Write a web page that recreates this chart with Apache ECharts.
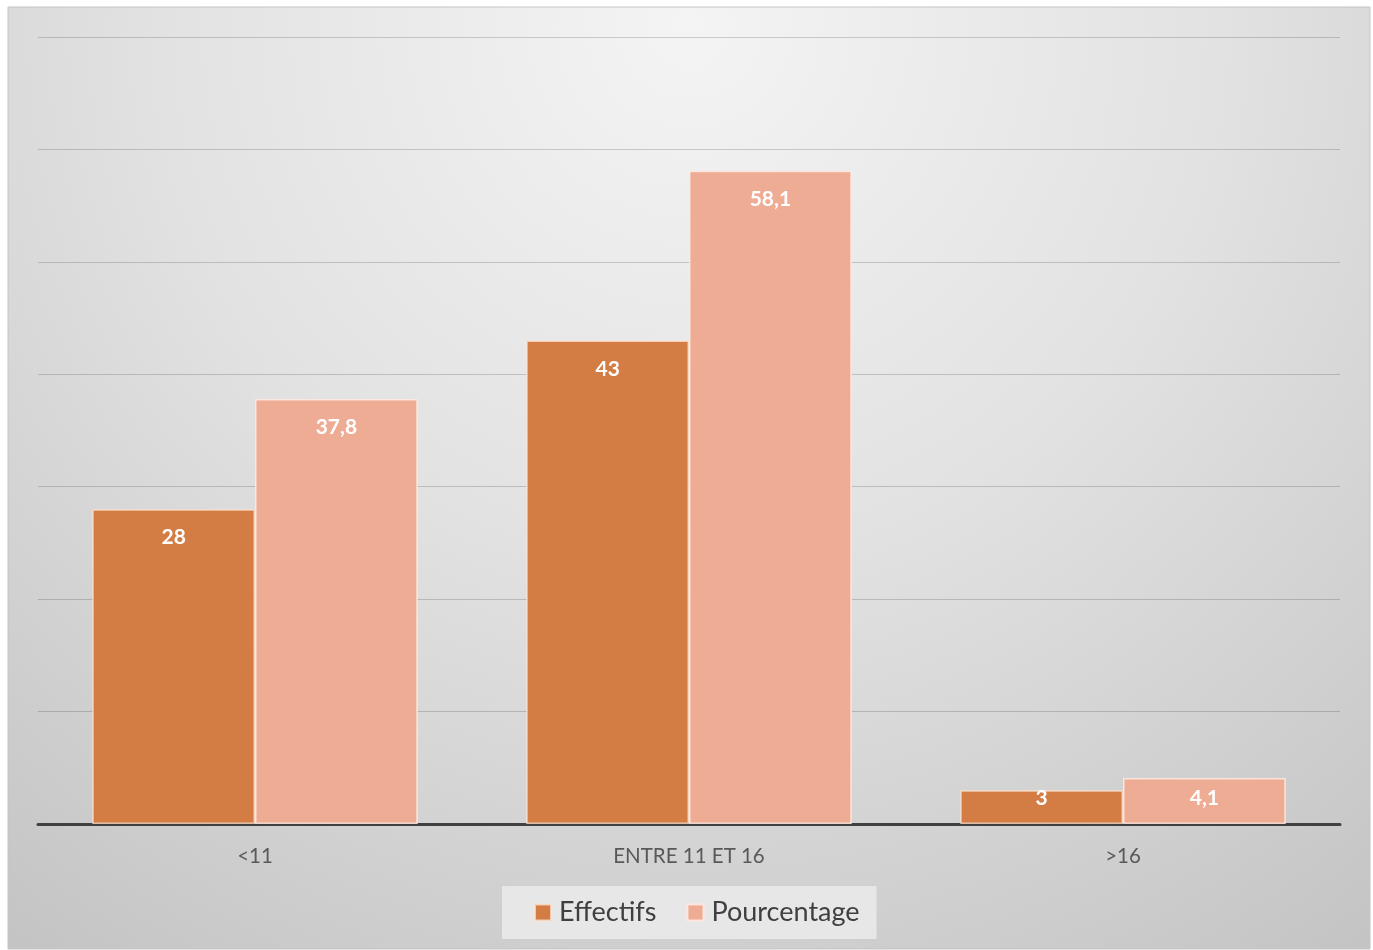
<!DOCTYPE html>
<html>
<head>
<meta charset="utf-8">
<script src="https://cdn.jsdelivr.net/npm/echarts@6/dist/echarts.min.js"></script>
<style>
  html, body { margin: 0; padding: 0; background: #ffffff; }
  #chart { width: 1373px; height: 950px; }
</style>
</head>
<body>
<div id="chart"></div>
<script>
// Age groups and their counts / shares
const categories = ['<11', 'ENTRE 11 ET 16', '>16'];
const effectifs = [28, 43, 3];
const pourcentage = [37.8, 58.1, 4.1];
const seriesNames = ['Effectifs', 'Pourcentage'];

const FONT = 'Lato, "Open Sans", sans-serif';

// Short bars have their label anchored from the baseline instead
function items(values) {
  return values.map(v => ({
    value: v,
    label: v < 10 ? { position: 'insideBottom', distance: 15 } : {}
  }));
}

const labelStyle = {
  show: true,
  position: 'insideTop',
  distance: 18,
  color: '#ffffff',
  fontFamily: FONT,
  fontWeight: 'bold',
  fontSize: 21,
  formatter: p => String(p.value).replace('.', ',')
};

const chart = echarts.init(document.getElementById('chart'), null, { renderer: 'canvas' });
chart.setOption({
  animation: false,
  graphic: [{
    type: 'rect',
    z: -10,
    silent: true,
    shape: { x: 8, y: 7, width: 1362, height: 942 },
    style: {
      fill: {
        type: 'radial', x: 0.5, y: 0.02, r: 1.25,
        colorStops: [
          { offset: 0, color: '#f4f4f4' },
          { offset: 0.45, color: '#e2e2e2' },
          { offset: 1, color: '#c2c2c2' }
        ]
      },
      stroke: '#c4c4c4',
      lineWidth: 1
    }
  }],
  grid: { left: 38, right: 33, top: 37, bottom: 126 },
  legend: {
    data: seriesNames,
    left: 502,
    top: 886,
    padding: [13, 17, 13, 32],
    backgroundColor: 'rgba(235,235,235,0.85)',
    itemWidth: 16,
    itemHeight: 16,
    itemGap: 30,
    icon: 'rect',
    textStyle: { fontFamily: FONT, fontSize: 27, color: '#404040', padding: [0, 0, 0, 3] }
  },
  xAxis: {
    type: 'category',
    data: categories,
    axisLine: { lineStyle: { color: '#404040', width: 3 } },
    axisTick: { show: false },
    axisLabel: { margin: 22, fontFamily: FONT, fontSize: 20.5, color: '#595959' }
  },
  yAxis: {
    type: 'value',
    min: 0,
    max: 70,
    interval: 10,
    axisLabel: { show: false },
    axisLine: { show: false },
    axisTick: { show: false },
    splitLine: { lineStyle: { color: 'rgba(0,0,0,0.17)', width: 1 } }
  },
  series: [
    {
      name: seriesNames[0],
      type: 'bar',
      data: items(effectifs),
      barGap: '0%',
      barCategoryGap: '25%',
      itemStyle: { color: '#d37d45', borderColor: 'rgba(255,225,205,0.75)', borderWidth: 1.5 },
      label: labelStyle
    },
    {
      name: seriesNames[1],
      type: 'bar',
      data: items(pourcentage),
      itemStyle: { color: '#eeac94', borderColor: 'rgba(255,235,225,0.85)', borderWidth: 1.5 },
      label: labelStyle
    }
  ]
});
</script>
</body>
</html>
